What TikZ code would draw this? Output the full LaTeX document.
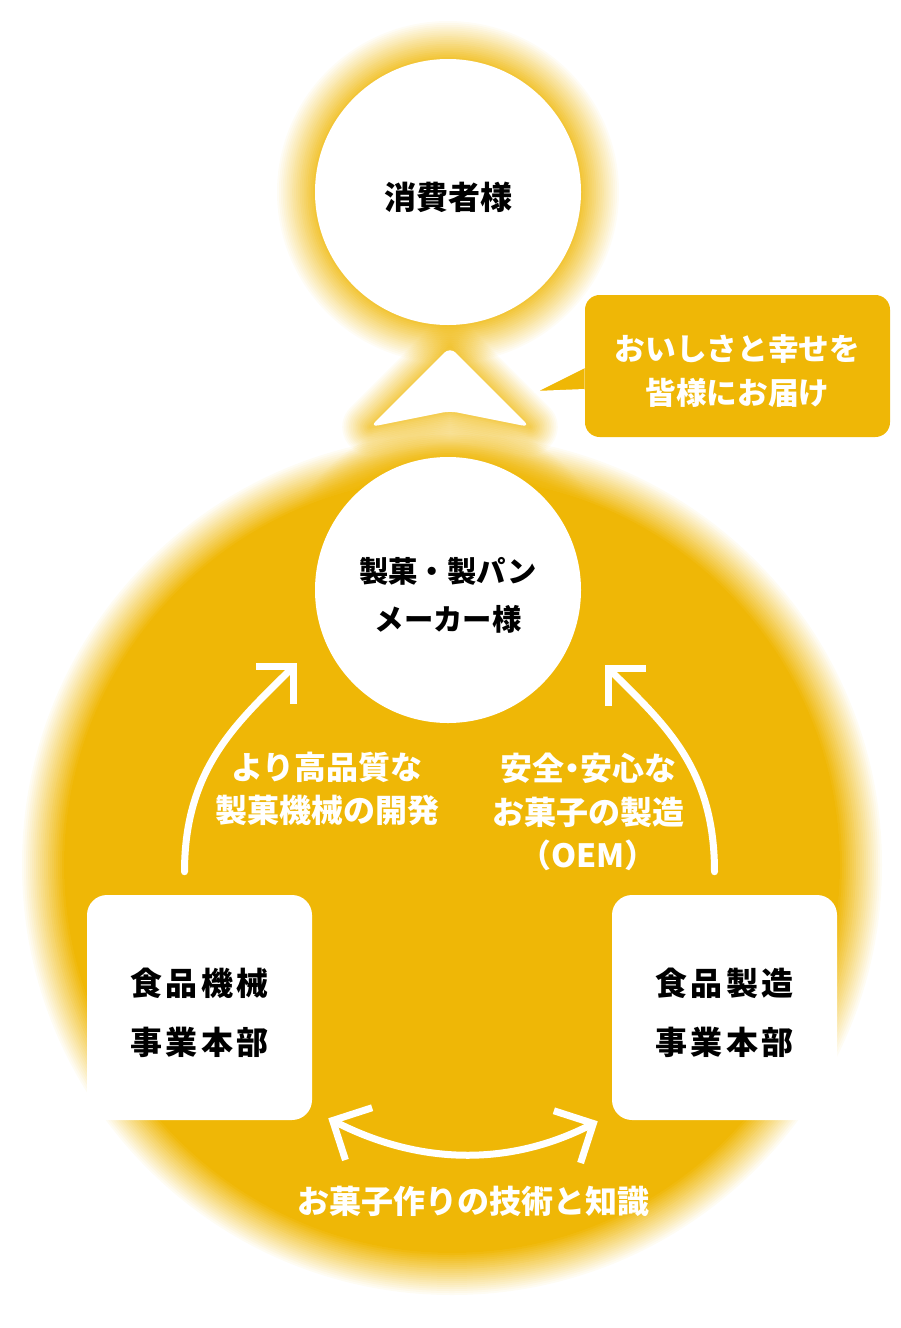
\documentclass[tikz,border=0pt]{standalone}
\usepackage{fontspec}
\setmainfont{Noto Sans CJK JP}
\usetikzlibrary{arrows.meta}
\definecolor{gold}{HTML}{EFB706}
\newcommand\liftline[1][1.2em]{\rule{0pt}{#1}}
\tikzset{
  bigcircle/.style={circle, fill=white, minimum size=199.5pt, inner sep=0pt, align=center,
    font=\bfseries\fontsize{22}{36}\selectfont},
  unitbox/.style={rectangle, rounded corners=15pt, fill=white, minimum size=168.75pt, inner sep=0pt,
    align=center, font=\bfseries\fontsize{24}{44}\selectfont\addfontfeatures{LetterSpace=10}},
  whitetext/.style={text=white, align=center, font=\bfseries\fontsize{24}{32.5}\selectfont},
  flow/.style={draw=white, line width=5.25pt, line cap=round, -{Straight Barb[length=20pt,width=40pt]}},
}
\begin{document}
\begin{tikzpicture}[x=0.75pt,y=-0.75pt]
\useasboundingbox (0,0) rectangle (900,1328);
\coordinate (top) at (448,192);
\coordinate (mid) at (448,590);
\coordinate (blob) at (452,865);

% soft yellow background
\foreach \k [evaluate=\k as \a using {1/(22-(22-\k))}] in {1,...,22}
  \fill[gold, opacity=\a] (blob) circle [radius=386+\k*2];
\foreach \k [evaluate=\k as \a using {0.8/(20-0.8*(20-\k))}] in {1,...,20}
  \fill[gold, opacity=\a] (top) circle [radius=133+\k*1.9];
\foreach \k [evaluate=\k as \a using {0.8/(20-0.8*(20-\k))}] in {1,...,20}
  \fill[gold, opacity=\a] (mid) circle [radius=133+\k*1.9];

% up arrow
\foreach \k [evaluate=\k as \a using {0.7/(16-0.7*(16-\k))}] in {1,...,16}
  \draw[gold, opacity=\a, line width=\k*2.6pt, line join=round]
    (450,347) -- (530,427) -- (450,411) -- (370,427) -- cycle;
\fill[white, rounded corners=6pt] (450,347) -- (530,427) -- (450,411) -- (370,427) -- cycle;

\node[bigcircle, font=\bfseries\fontsize{24}{30}\selectfont] (consumer) at (top) {\liftline 消費者様};
\node[bigcircle] (maker) at (mid) {\liftline 製菓・製パン\\メーカー様};
\node[unitbox] (machine) at (199.5,1007.5) {\liftline 食品機械\\事業本部};
\node[unitbox] (food) at (724.5,1007.5) {\liftline 食品製造\\事業本部};

% speech bubble
\node[rectangle, rounded corners=11pt, fill=gold, minimum width=228.75pt, minimum height=106.5pt,
  whitetext, font=\bfseries\fontsize{23}{33}\selectfont] (bubble) at (737.5,366) {\liftline[1.15em]おいしさと幸せを\\皆様にお届け};
\draw[white, line width=1.5pt, fill=gold, line join=round] (bubble.west) ++(0,1) -- ++(-50,25) -- ++(50,-2);

\node[whitetext] (quality) at (327,789) {より高品質な\\製菓機械の開発};
\node[whitetext] (oem) at (588,812) {安全{\addfontfeatures{RawFeature=+palt}・}安心な\\お菓子の製造\\（OEM）};
\node[whitetext] (knowhow) at (473,1201) {お菓子作りの技術と知識};

\draw[flow] ([shift={(-15,-23)}]machine.north) .. controls +(0,-105) and +(-58,58) .. ([shift={(-151,73)}]maker.center);
\draw[flow] ([shift={(-10,-23)}]food.north) .. controls +(0,-105) and +(58,58) .. ([shift={(157,75)}]maker.center);
\draw[flow, {Straight Barb[length=22pt,width=44pt]}-{Straight Barb[length=22pt,width=44pt]}]
  ([shift={(16,-2)}]machine.south east) .. controls +(92,47) and +(-88,45) .. ([shift={(-14,1)}]food.south west);
\end{tikzpicture}
\end{document}
